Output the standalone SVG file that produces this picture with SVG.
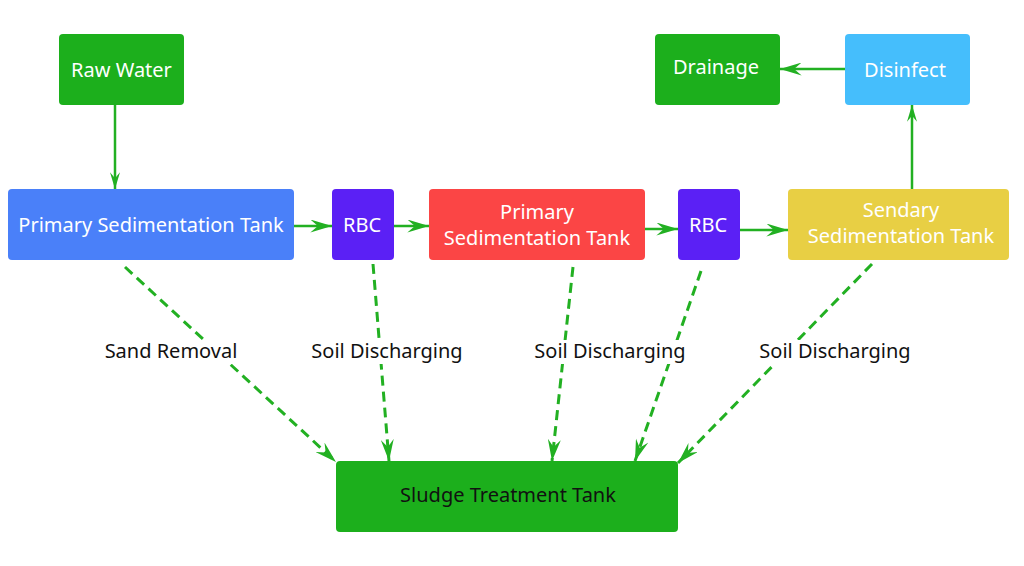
<svg xmlns="http://www.w3.org/2000/svg" width="1024" height="566" viewBox="0 0 1024 566">
<defs>
<style>
.n{stroke:none}
.t{font-family:"Noto Sans","Open Sans",sans-serif;font-size:20px;text-anchor:middle;fill:#fff}
.lb{font-family:"Noto Sans","Open Sans",sans-serif;font-size:20px;text-anchor:middle;fill:#111}
.c{fill:none;stroke:#22b022;stroke-width:2.5}
.d{fill:none;stroke:#22b022;stroke-width:3;stroke-dasharray:10 6}
</style>
<marker id="a" viewBox="0 0 20 12" refX="20" refY="6" markerWidth="22" markerHeight="13" markerUnits="userSpaceOnUse" orient="auto">
<path d="M0,0 L20,6 L0,12 L7,6 Z" fill="#22b022"/>
</marker>
<marker id="s" viewBox="0 0 20 12" refX="20" refY="6" markerWidth="17" markerHeight="10" markerUnits="userSpaceOnUse" orient="auto">
<path d="M0,0 L20,6 L0,12 L7,6 Z" fill="#22b022"/>
</marker>
</defs>
<rect width="1024" height="566" fill="#fff"/>
<g id="connectors">
<line class="c" x1="115" y1="105" x2="115" y2="189" marker-end="url(#s)"/>
<line class="c" x1="294" y1="226" x2="332" y2="226" stroke-width="3" marker-end="url(#a)"/>
<line class="c" x1="394" y1="226" x2="429" y2="226" stroke-width="3" marker-end="url(#a)"/>
<line class="c" x1="645" y1="229" x2="678" y2="229" stroke-width="3" marker-end="url(#a)"/>
<line class="c" x1="740" y1="230" x2="788" y2="230" stroke-width="3" marker-end="url(#a)"/>
<line class="c" x1="912" y1="189" x2="912" y2="105" marker-end="url(#s)"/>
<line class="c" x1="845" y1="69" x2="780" y2="69" stroke-width="3" marker-end="url(#a)"/>
<line class="d" x1="125" y1="267" x2="336" y2="462" marker-end="url(#a)"/>
<line class="d" x1="373" y1="264" x2="389" y2="461" marker-end="url(#a)"/>
<line class="d" x1="573" y1="267" x2="552" y2="461" marker-end="url(#a)"/>
<line class="d" x1="701" y1="271" x2="635" y2="461" marker-end="url(#a)"/>
<line class="d" x1="872" y1="264" x2="678" y2="463" marker-end="url(#a)"/>
<rect x="102" y="340" width="140" height="24" fill="#fff"/>
<text class="lb" x="171" y="358">Sand Removal</text>
<rect x="307" y="340" width="162" height="24" fill="#fff"/>
<text class="lb" x="387" y="358">Soil Discharging</text>
<rect x="530" y="340" width="162" height="24" fill="#fff"/>
<text class="lb" x="610" y="358">Soil Discharging</text>
<rect x="755" y="340" width="162" height="24" fill="#fff"/>
<text class="lb" x="835" y="358">Soil Discharging</text>
</g>
<g id="raw-water"><rect class="n" x="59" y="34" width="125" height="71" rx="4" fill="#1caf1c"/><text class="t" x="121.5" y="77">Raw Water</text></g>
<g id="primary-1"><rect class="n" x="8" y="189" width="286" height="71" rx="4" fill="#4a80f9"/><text class="t" x="151" y="232">Primary Sedimentation Tank</text></g>
<g id="rbc-1"><rect class="n" x="332" y="189" width="62" height="71" rx="4" fill="#5b20f5"/><text class="t" x="362" y="232">RBC</text></g>
<g id="primary-2"><rect class="n" x="429" y="189" width="216" height="71" rx="4" fill="#fb4545"/><text class="t" x="537" y="219">Primary</text><text class="t" x="537" y="245">Sedimentation Tank</text></g>
<g id="rbc-2"><rect class="n" x="678" y="189" width="62" height="71" rx="4" fill="#5b20f5"/><text class="t" x="708" y="232">RBC</text></g>
<g id="secondary"><rect class="n" x="788" y="189" width="221" height="71" rx="4" fill="#e8cf44"/><text class="t" x="901" y="217">Sendary</text><text class="t" x="901" y="243">Sedimentation Tank</text></g>
<g id="disinfect"><rect class="n" x="845" y="34" width="125" height="71" rx="4" fill="#45befc"/><text class="t" x="905" y="77">Disinfect</text></g>
<g id="drainage"><rect class="n" x="655" y="34" width="125" height="71" rx="4" fill="#1caf1c"/><text class="t" x="716" y="74">Drainage</text></g>
<g id="sludge"><rect class="n" x="336" y="461" width="342" height="71" rx="4" fill="#1caf1c"/><text class="t" x="508" y="502" style="fill:#111">Sludge Treatment Tank</text></g>
</svg>
